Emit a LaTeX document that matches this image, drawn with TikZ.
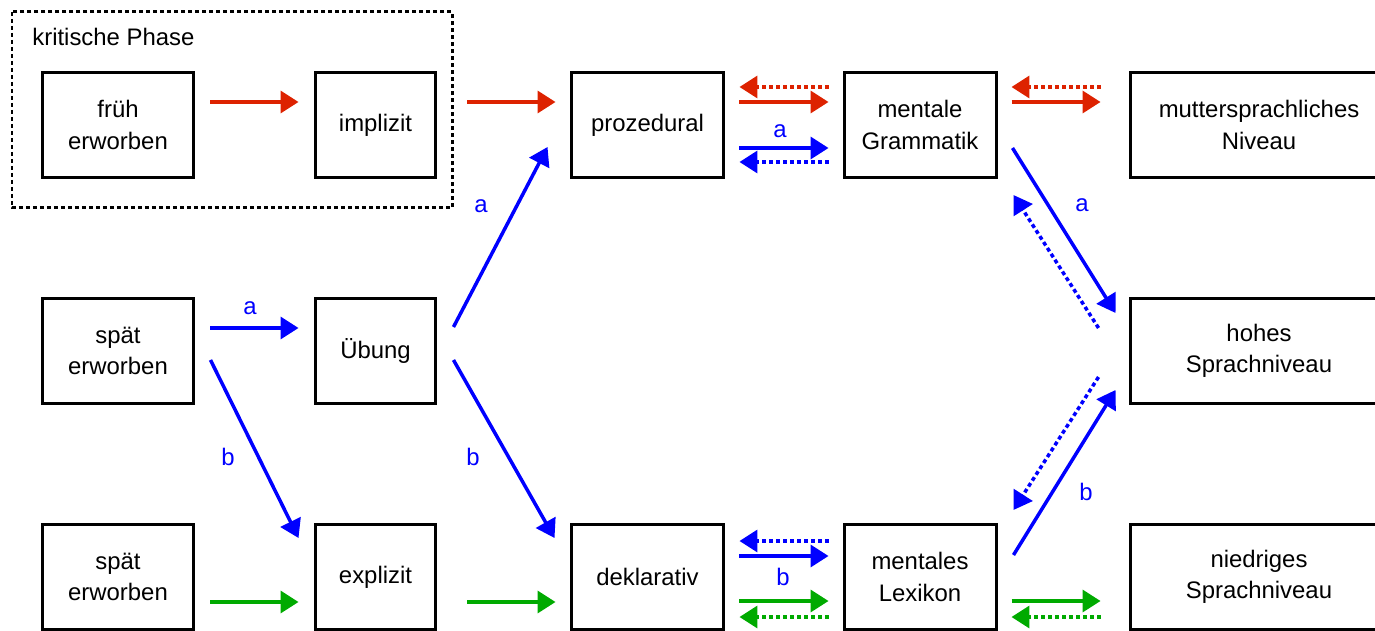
\documentclass[tikz,border=0pt]{standalone}
\usepackage{fontspec}
\setmainfont{Liberation Sans}
\usetikzlibrary{arrows.meta,calc}

\definecolor{arrred}{RGB}{221,34,0}
\definecolor{arrblue}{RGB}{0,0,255}
\definecolor{arrgreen}{RGB}{0,170,0}

\tikzset{
  txt/.style={font=\fontsize{13.6}{17.8}\selectfont},
  box/.style={txt, draw, line width=0.06cm, minimum height=2.12cm, align=center, inner sep=0},
  arr/.style={-{Triangle[length=0.36cm,width=0.44cm]}, line width=0.07cm},
  back/.style={arr, dash pattern=on 0.08cm off 0.06cm},
  lbl/.style={txt, text=arrblue, inner sep=0}
}

\begin{document}
\begin{tikzpicture}[x=0.02cm, y=-0.02cm]
  \useasboundingbox (0,0) rectangle (1375,631);

  % critical period
  \draw [line width=0.06cm, dash pattern=on 0.08cm off 0.06cm] (12,12) rectangle (452,208);
  \node [txt, anchor=base west, inner sep=0] (phase) at (32,46) {kritische Phase};

  % boxes
  \node [box, minimum width=3.04cm] (frueh) at (118,125) {früh\\erworben};
  \node [box, minimum width=2.42cm] (impl) at (375.5,125) {implizit};
  \node [box, minimum width=3.06cm] (proz) at (647.5,125) {prozedural};
  \node [box, minimum width=3.04cm] (gram) at (920,125) {mentale\\Grammatik};
  \node [box, minimum width=5.16cm] (mutter) at (1259,125) {muttersprachliches\\Niveau};

  \node [box, minimum width=3.04cm] (spaetA) at (118,351) {spät\\erworben};
  \node [box, minimum width=2.42cm] (uebung) at (375.5,351) {Übung};
  \node [box, minimum width=5.16cm] (hoch) at (1259,351) {hohes\\Sprachniveau};

  \node [box, minimum width=3.04cm] (spaetB) at (118,577) {spät\\erworben};
  \node [box, minimum width=2.42cm] (expl) at (375.5,577) {explizit};
  \node [box, minimum width=3.06cm] (dekl) at (647.5,577) {deklarativ};
  \node [box, minimum width=3.04cm] (lex) at (920,577) {mentales\\Lexikon};
  \node [box, minimum width=5.16cm] (niedrig) at (1259,577) {niedriges\\Sprachniveau};

  % red path
  \draw [arr, arrred] ($(frueh.east)+(15,-23)$) -- ($(impl.west)+(-15,-23)$);
  \draw [arr, arrred] ($(impl.east)+(30,-23)$) -- ($(proz.west)+(-14,-23)$);
  \draw [arr, arrred] ($(proz.east)+(14,-23)$) -- ($(gram.west)+(-14,-23)$);
  \draw [back, arrred] ($(gram.west)+(-14,-38)$) -- ($(proz.east)+(14,-38)$);
  \draw [arr, arrred] ($(gram.east)+(14,-23)$) -- ($(mutter.west)+(-28,-23)$);
  \draw [back, arrred] ($(mutter.west)+(-28,-38)$) -- ($(gram.east)+(14,-38)$);

  % blue paths
  \draw [arr, arrblue] ($(spaetA.east)+(15,-23)$) -- ($(uebung.west)+(-15,-23)$);
  \draw [arr, arrblue] ($(spaetA.east)+(15,9)$) -- ($(expl.west)+(-15,-39)$);
  \draw [arr, arrblue] ($(uebung.east)+(16,-24)$) -- ($(proz.west)+(-22,22)$);
  \draw [arr, arrblue] ($(uebung.east)+(16,9)$) -- ($(dekl.west)+(-15,-39)$);

  \draw [arr, arrblue] ($(proz.east)+(14,23)$) -- ($(gram.west)+(-14,23)$);
  \draw [back, arrblue] ($(gram.west)+(-14,37)$) -- ($(proz.east)+(14,37)$);
  \draw [arr, arrblue] ($(dekl.east)+(14,-21)$) -- ($(lex.west)+(-14,-21)$);
  \draw [back, arrblue] ($(lex.west)+(-14,-36)$) -- ($(dekl.east)+(14,-36)$);

  \draw [arr, arrblue] ($(gram.east)+(15,23)$) -- ($(hoch.west)+(-13,-38)$);
  \draw [back, arrblue] ($(hoch.west)+(-30,-23)$) -- ($(gram.east)+(16,70)$);
  \draw [arr, arrblue] ($(lex.east)+(16,-22)$) -- ($(hoch.west)+(-13,39)$);
  \draw [back, arrblue] ($(hoch.west)+(-30,26)$) -- ($(lex.east)+(16,-67)$);

  % green path
  \draw [arr, arrgreen] ($(spaetB.east)+(15,25)$) -- ($(expl.west)+(-15,25)$);
  \draw [arr, arrgreen] ($(expl.east)+(30,25)$) -- ($(dekl.west)+(-14,25)$);
  \draw [arr, arrgreen] ($(dekl.east)+(14,24)$) -- ($(lex.west)+(-14,24)$);
  \draw [back, arrgreen] ($(lex.west)+(-14,40)$) -- ($(dekl.east)+(14,40)$);
  \draw [arr, arrgreen] ($(lex.east)+(14,24)$) -- ($(niedrig.west)+(-28,24)$);
  \draw [back, arrgreen] ($(niedrig.west)+(-28,40)$) -- ($(lex.east)+(14,40)$);

  % labels
  \node [lbl] (la1) at (250,308) {a};
  \node [lbl] (lb1) at (228,457) {b};
  \node [lbl] (la2) at (481,206) {a};
  \node [lbl] (lb2) at (473,457) {b};
  \node [lbl] (la3) at (780,131) {a};
  \node [lbl] (lb3) at (783,577) {b};
  \node [lbl] (la4) at (1082,205) {a};
  \node [lbl] (lb4) at (1086,492) {b};
\end{tikzpicture}
\end{document}
